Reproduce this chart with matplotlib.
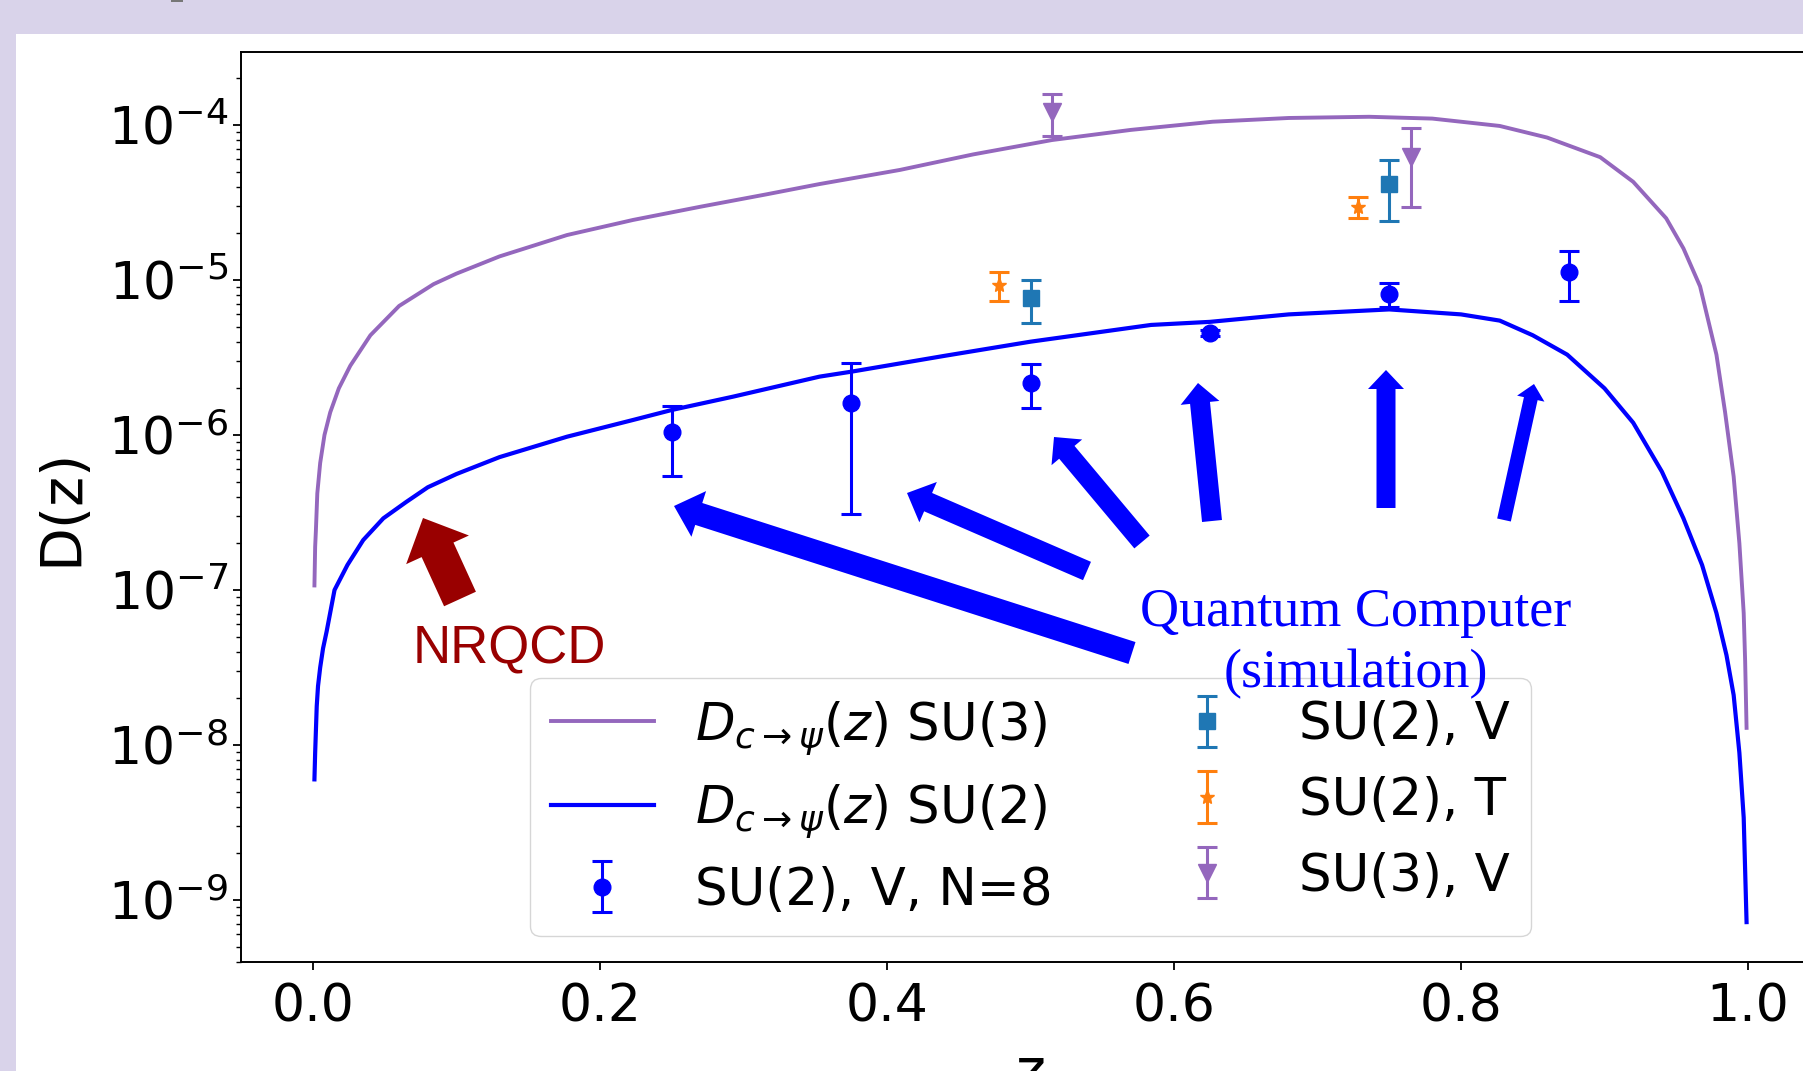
import numpy as np
import matplotlib
matplotlib.use("Agg")
import matplotlib.pyplot as plt
import matplotlib.transforms as mtransforms
from matplotlib.patches import Rectangle, FancyArrow

# theory curves
z_su3 = [0.001, 0.0015, 0.002, 0.003, 0.005, 0.008, 0.012, 0.018, 0.026, 0.04,
         0.06, 0.084, 0.1, 0.13, 0.177, 0.223, 0.27, 0.316, 0.353, 0.409, 0.46,
         0.515, 0.57, 0.627, 0.68, 0.736, 0.78, 0.827, 0.86, 0.897, 0.92,
         0.943, 0.955, 0.9666, 0.978, 0.984, 0.99, 0.994, 0.997, 0.998, 0.999]
d_su3 = [1.07e-7, 1.9e-7, 2.4e-7, 4.2e-7, 6.6e-7, 1.0e-6, 1.4e-6, 2.0e-6,
         2.8e-6, 4.4e-6, 6.8e-6, 9.4e-6, 1.1e-5, 1.42e-5, 1.95e-5, 2.44e-5,
         2.97e-5, 3.57e-5, 4.16e-5, 5.13e-5, 6.46e-5, 8.0e-5, 9.3e-5, 1.05e-4,
         1.11e-4, 1.13e-4, 1.10e-4, 9.86e-5, 8.3e-5, 6.2e-5, 4.3e-5, 2.5e-5,
         1.6e-5, 9.1e-6, 3.3e-6, 1.41e-6, 5.4e-7, 2.0e-7, 7.1e-8, 3.5e-8,
         1.29e-8]

z_su2 = [0.001, 0.0015, 0.0026, 0.0035, 0.005, 0.007, 0.0095, 0.015, 0.024,
         0.035, 0.049, 0.065, 0.08, 0.1, 0.13, 0.177, 0.223, 0.25, 0.293,
         0.353, 0.375, 0.44, 0.5, 0.584, 0.625, 0.68, 0.75, 0.80, 0.827, 0.85,
         0.874, 0.9, 0.92, 0.94, 0.955, 0.968, 0.978, 0.985, 0.99, 0.994,
         0.997, 0.999]
d_su2 = [6.0e-9, 8.9e-9, 1.78e-8, 2.4e-8, 3.16e-8, 4.2e-8, 5.4e-8, 1.0e-7,
         1.45e-7, 2.1e-7, 2.9e-7, 3.7e-7, 4.6e-7, 5.6e-7, 7.2e-7, 9.75e-7,
         1.25e-6, 1.45e-6, 1.77e-6, 2.38e-6, 2.56e-6, 3.24e-6, 4.0e-6, 5.13e-6,
         5.37e-6, 6.0e-6, 6.46e-6, 6.0e-6, 5.47e-6, 4.4e-6, 3.3e-6, 2.0e-6,
         1.2e-6, 5.8e-7, 2.9e-7, 1.45e-7, 7.1e-8, 3.8e-8, 2.1e-8, 8.9e-9,
         3.4e-9, 7.2e-10]

# quantum simulation points
z_n8 = [0.25, 0.375, 0.5, 0.625, 0.75, 0.875]
d_n8 = [1.04e-6, 1.62e-6, 2.18e-6, 4.53e-6, 8.13e-6, 1.13e-5]
e_n8 = [0.50e-6, 1.31e-6, 0.68e-6, 0.2e-6, 1.4e-6, 4.0e-6]

z_v = [0.5, 0.75]
d_v = [7.62e-6, 4.16e-5]
e_v = [2.35e-6, 1.77e-5]

z_t = [0.478, 0.728]
d_t = [9.29e-6, 2.97e-5]
e_t = [2.0e-6, 0.45e-5]

z_su3v = [0.515, 0.765]
d_su3v = [1.22e-4, 6.25e-5]
e_su3v = [3.75e-5, 3.3e-5]

W, H = 1803, 1071
fig = plt.figure(figsize=(W / 100, H / 100), dpi=100)
fig.patch.set_facecolor('#d9d3ea')
px = mtransforms.Affine2D().scale(1 / W, -1 / H).translate(0, 1) + fig.transFigure

# white slide panel (behind the axes)
fig.add_artist(Rectangle((16, 34), W, H, transform=px, facecolor='white',
                         edgecolor='none', zorder=-10))
fig.add_artist(Rectangle((171, 0), 12, 2, transform=px, facecolor='#777777',
                         edgecolor='none', zorder=-10))

ax = fig.add_axes([241.25 / W, 109 / H, 1578.5 / W, 910 / H])
ax.patch.set_alpha(0)
fs = 37

ax.plot(z_su3, d_su3, color='#9467bd', lw=2.8, label=r'$D_{c\rightarrow\psi}(z)$ SU(3)')
ax.plot(z_su2, d_su2, color='#0000ff', lw=3.0, label=r'$D_{c\rightarrow\psi}(z)$ SU(2)')

eb = dict(capsize=7, elinewidth=2.2, capthick=2.2, ls='none')
ax.errorbar(z_n8, d_n8, yerr=e_n8, fmt='o', color='#0000ff', ms=12, label='SU(2), V, N=8', **eb)
ax.errorbar(z_v, d_v, yerr=e_v, fmt='s', color='#1f77b4', ms=12, label='SU(2), V', **eb)
ax.errorbar(z_t, d_t, yerr=e_t, fmt='*', color='#ff7f0e', ms=11, label='SU(2), T', **eb)
ax.errorbar(z_su3v, d_su3v, yerr=e_su3v, fmt='v', color='#9467bd', ms=13, label='SU(3), V', **eb)

ax.set_yscale('log')
ax.set_xlim(-0.05, 1.05)
ax.set_ylim(10 ** -9.4, 10 ** -3.529)
ax.set_xticks([0.0, 0.2, 0.4, 0.6, 0.8, 1.0])
ax.tick_params(which='major', labelsize=37.5, length=6, width=1.3)
ax.tick_params(axis='x', which='major', pad=9)
ax.tick_params(which='minor', length=3.5, width=1.0)
for s in ax.spines.values():
    s.set_linewidth(1.4)
ax.set_xlabel('z', fontsize=41, labelpad=9)
ax.set_ylabel('D(z)', fontsize=41, labelpad=13)

ax.legend(loc='lower center', ncol=2, fontsize=fs, handlelength=2.0)

# slide annotations (pixel coordinates of the slide)
arrows = [
    # tail x, tail y, tip x, tip y, shaft, head width, head length
    (460, 599, 423, 518, 35, 69, 35),
    (1132, 653, 674, 506, 23, 48, 26),
    (1087, 571, 907, 493, 20, 44, 23),
    (1142, 542, 1054, 437, 20, 40, 20),
    (1212, 521, 1198, 383, 20, 39, 20),
    (1386, 508, 1386, 370, 19, 36, 19),
    (1504, 520, 1534, 384, 14, 28, 15),
]
for i, (x0, y0, x1, y1, w, hw, hl) in enumerate(arrows):
    col = '#990000' if i == 0 else '#0000ff'
    fig.add_artist(FancyArrow(x0, y0, x1 - x0, y1 - y0, width=w, head_width=hw,
                              head_length=hl, length_includes_head=True,
                              transform=px, color=col, lw=0))

fig.text(413, 663, 'NRQCD', transform=px, color='#990000', fontsize=38,
         family='Liberation Sans', ha='left', va='baseline')
fig.text(1356, 626, 'Quantum Computer', transform=px, color='#0000ff',
         fontsize=39, family='Liberation Serif', ha='center', va='baseline')
fig.text(1356, 687, '(simulation)', transform=px, color='#0000ff',
         fontsize=39, family='Liberation Serif', ha='center', va='baseline')

fig.savefig('out.png', dpi=100, facecolor=fig.get_facecolor())
